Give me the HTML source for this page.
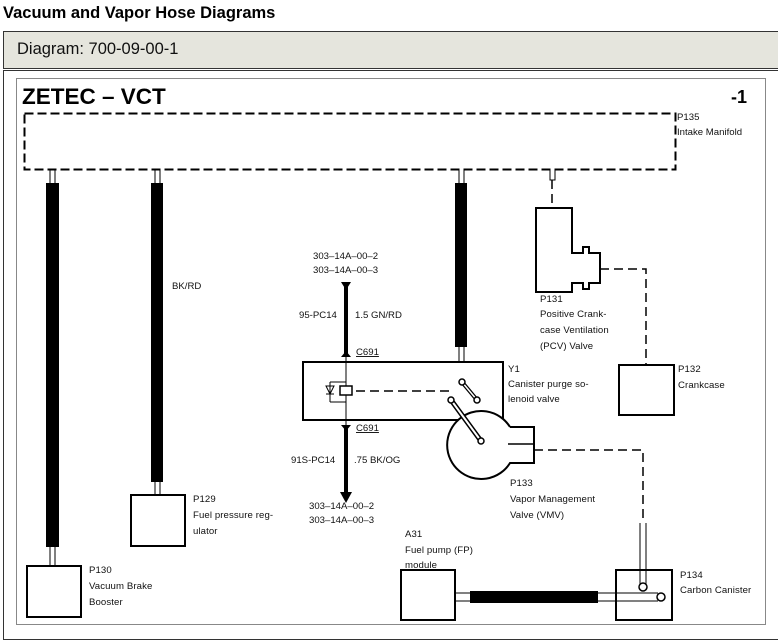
<!DOCTYPE html>
<html><head><meta charset="utf-8"><style>
body{margin:0;width:778px;height:634px;background:#fff;font-family:"Liberation Sans",Arial,sans-serif;overflow:hidden;position:relative}
.t{position:absolute;left:3px;top:4px;font-size:16.5px;font-weight:bold;color:#000}
.g{position:absolute;left:3px;top:31px;width:780px;height:38px;background:#e5e5dd;border:1px solid #333;box-sizing:border-box}
.g span{position:absolute;left:13px;top:8px;font-size:16.5px;color:#111}
.o{position:absolute;left:3px;top:70px;width:780px;height:570px;border:1px solid #333;box-sizing:border-box}
svg{position:absolute;left:0;top:0}
svg text{font-family:"Liberation Sans",Arial,sans-serif;font-size:9.6px;fill:#111}
</style></head><body>
<div class="t">Vacuum and Vapor Hose Diagrams</div>
<div class="g"><span>Diagram: 700-09-00-1</span></div>
<div class="o"></div>
<svg width="778" height="634" viewBox="0 0 778 634">
<rect x="16.5" y="78.5" width="749" height="546" fill="none" stroke="#888" stroke-width="1"/>
<text x="22" y="104" style="font-size:22.5px;font-weight:bold;fill:#000">ZETEC – VCT</text>
<text x="731" y="103" style="font-size:18px;font-weight:bold;fill:#000">-1</text>
<rect x="24.5" y="113.5" width="651" height="56" fill="none" stroke="#000" stroke-width="2" stroke-dasharray="9,4"/>
<text x="677" y="120">P135</text><text x="677" y="135">Intake Manifold</text>
<g stroke="#000" fill="none" stroke-width="1">
<line x1="50" y1="170" x2="50" y2="185"/><line x1="55" y1="170" x2="55" y2="185"/>
<line x1="50" y1="545" x2="50" y2="566"/><line x1="55" y1="545" x2="55" y2="566"/>
<line x1="155" y1="170" x2="155" y2="185"/><line x1="160" y1="170" x2="160" y2="185"/>
<line x1="155" y1="480" x2="155" y2="495"/><line x1="160" y1="480" x2="160" y2="495"/>
<line x1="459" y1="170" x2="459" y2="185"/><line x1="464" y1="170" x2="464" y2="185"/>
<path d="M459 346 L459 378 L461 382 M464 346 L464 378"/>
<path d="M550 170 L550 180 L555 180 L555 170"/>
</g>
<rect x="46" y="183" width="13" height="364" fill="#000"/>
<rect x="151" y="183" width="12" height="299" fill="#000"/>
<rect x="455" y="183" width="12" height="164" fill="#000"/>
<text x="172" y="289">BK/RD</text>
<g stroke="#000" stroke-width="2" fill="#fff">
<rect x="27" y="566" width="54" height="51"/>
<rect x="131" y="495" width="54" height="51"/>
<path d="M536 208 L572 208 L572 253 L583 253 L583 247 L589 247 L589 253 L600 253 L600 283 L589 283 L589 289 L583 289 L583 283 L572 283 L572 292 L536 292 Z"/>
<rect x="619" y="365" width="55" height="50"/>
<rect x="303" y="362" width="200" height="58"/>
<rect x="401" y="570" width="54" height="50"/>
<rect x="616" y="570" width="56" height="50"/>
<path d="M510 427 L534 427 L534 463 L510 463 A34 34 0 1 1 510 427" />
</g>
<line x1="508" y1="444" x2="534" y2="444" stroke="#000" stroke-width="1.5"/>
<g stroke="#000" stroke-width="1.5" fill="none" stroke-dasharray="9,5">
<line x1="552" y1="180" x2="552" y2="208"/>
<path d="M600 269 L646 269 L646 365"/>
<path d="M534 450 L643 450 L643 523"/>
<line x1="356" y1="391" x2="450" y2="391"/>
</g>
<g style="letter-spacing:0.1px">
<text x="540" y="302">P131</text><text x="540" y="317">Positive Crank-</text><text x="540" y="333">case Ventilation</text><text x="540" y="349">(PCV) Valve</text>
<text x="678" y="372">P132</text><text x="678" y="388">Crankcase</text>
<text x="508" y="372">Y1</text><text x="508" y="387">Canister purge so-</text><text x="508" y="402">lenoid valve</text>
<text x="510" y="486">P133</text><text x="510" y="502">Vapor Management</text><text x="510" y="518">Valve (VMV)</text>
<text x="405" y="537">A31</text><text x="405" y="553">Fuel pump (FP)</text><text x="405" y="568">module</text>
<text x="680" y="578">P134</text><text x="680" y="593">Carbon Canister</text>
<text x="193" y="502">P129</text><text x="193" y="518">Fuel pressure reg-</text><text x="193" y="534">ulator</text>
<text x="89" y="573">P130</text><text x="89" y="589">Vacuum Brake</text><text x="89" y="605">Booster</text>
</g>
<rect x="344" y="287" width="4" height="70" fill="#000"/>
<path d="M341 282 L351 282 L346 290 Z" fill="#000"/>
<path d="M341 357 L351 357 L346 351 Z" fill="#000"/>
<rect x="344" y="425" width="4" height="70" fill="#000"/>
<path d="M341 425 L351 425 L346 431 Z" fill="#000"/>
<path d="M340 492 L352 492 L346 503 Z" fill="#000"/>
<line x1="346" y1="357" x2="346" y2="425" stroke="#000" stroke-width="1"/>
<text x="313" y="259">303–14A–00–2</text><text x="313" y="273">303–14A–00–3</text>
<text x="299" y="318">95-PC14</text><text x="355" y="318">1.5 GN/RD</text>
<text x="356" y="355" style="text-decoration:underline">C691</text>
<text x="356" y="431" style="text-decoration:underline">C691</text>
<text x="291" y="463">91S-PC14</text><text x="354" y="463">.75 BK/OG</text>
<text x="309" y="509">303–14A–00–2</text><text x="309" y="523">303–14A–00–3</text>
<g stroke="#000" stroke-width="1" fill="none">
<path d="M330 382 L330 402 M326 386 L334 386 L330 394 Z M326 394 L334 394 M330 382 L346 382 M330 402 L346 402"/>
<rect x="340" y="386" width="12" height="9" fill="#fff" stroke-width="1.5"/>
</g>
<g stroke="#000" stroke-width="1.5" fill="#fff">
<line x1="462" y1="382" x2="477" y2="400" stroke-width="4"/>
<line x1="462" y1="382" x2="477" y2="400" stroke="#fff" stroke-width="1.5"/>
<circle cx="462" cy="382" r="3"/><circle cx="477" cy="400" r="3"/>
<line x1="451" y1="400" x2="481" y2="441" stroke-width="5"/>
<line x1="451" y1="400" x2="481" y2="441" stroke="#fff" stroke-width="2"/>
<circle cx="451" cy="400" r="3"/><circle cx="481" cy="441" r="3"/>
</g>
<g stroke="#000" fill="none" stroke-width="1">
<line x1="640" y1="523" x2="640" y2="584"/><line x1="646" y1="523" x2="646" y2="584"/>
<line x1="455" y1="593" x2="658" y2="593"/><line x1="455" y1="601" x2="658" y2="601"/>
</g>
<rect x="470" y="591" width="128" height="12" fill="#000"/>
<circle cx="643" cy="587" r="4" fill="#fff" stroke="#000" stroke-width="1.5"/>
<circle cx="661" cy="597" r="4" fill="#fff" stroke="#000" stroke-width="1.5"/>
</svg>
</body></html>
